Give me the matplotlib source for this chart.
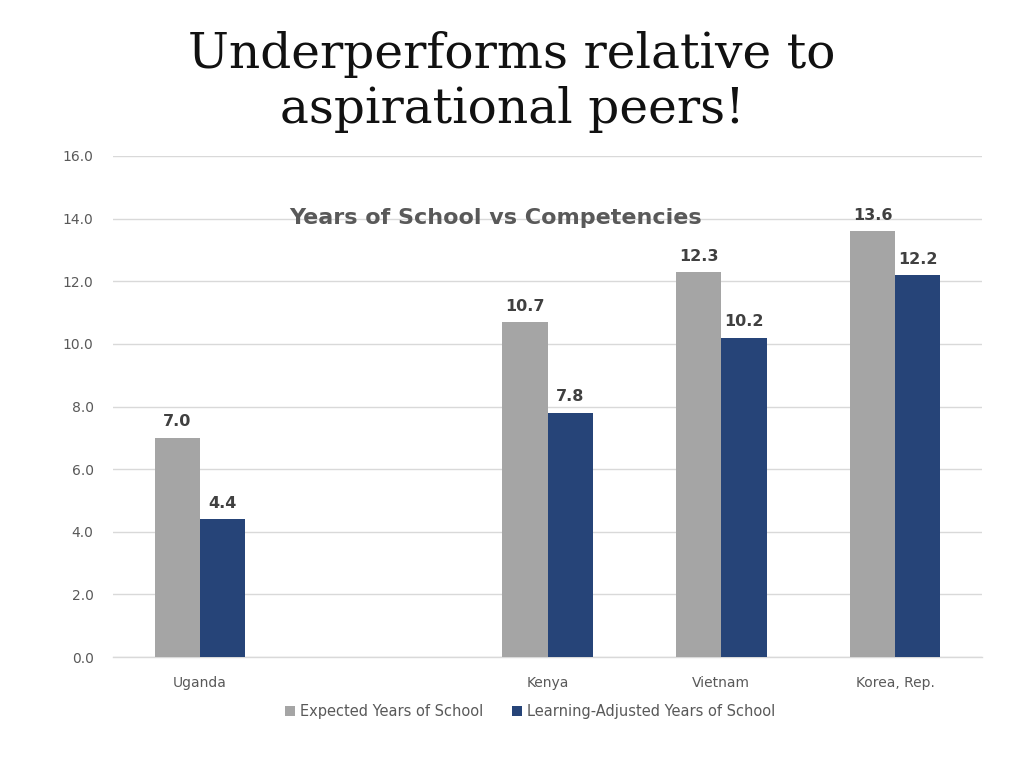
import matplotlib
matplotlib.use("Agg")
import matplotlib.pyplot as plt
import numpy as np

categories = ["Uganda", "", "Kenya", "Vietnam", "Korea, Rep."]
expected = [7.0, np.nan, 10.7, 12.3, 13.6]
learning_adj = [4.4, np.nan, 7.8, 10.2, 12.2]
series_names = ["Expected Years of School", "Learning-Adjusted Years of School"]
yticks = [0, 2, 4, 6, 8, 10, 12, 14, 16]

fig = plt.figure(figsize=(10.24, 7.68), dpi=100)
ax = fig.add_axes([0.1104, 0.1445, 0.8486, 0.6524])

x = np.arange(len(categories))
w = 0.26
c1, c2 = "#A5A5A5", "#264478"
b1 = ax.bar(x - w / 2, expected, w, color=c1, label=series_names[0], zorder=3)
b2 = ax.bar(x + w / 2, learning_adj, w, color=c2, label=series_names[1], zorder=3)

for bars, vals in ((b1, expected), (b2, learning_adj)):
    for rect, v in zip(bars, vals):
        if np.isnan(v):
            continue
        ax.annotate(f"{v:.1f}", (rect.get_x() + rect.get_width() / 2, v),
                    xytext=(0, 6), textcoords="offset points", ha="center", va="bottom",
                    fontsize=11.5, fontweight="bold", color="#404040", family="DejaVu Sans")

ax.set_xlim(-0.5, len(categories) - 0.5)
ax.set_ylim(0, 16)
ax.set_yticks(yticks)
ax.set_yticklabels([f"{t:.1f}" for t in yticks], fontsize=10, color="#595959")
ax.set_xticks(x)
ax.set_xticklabels(categories, fontsize=10, color="#595959")
ax.tick_params(axis="both", length=0)
ax.tick_params(axis="x", pad=14)
ax.tick_params(axis="y", pad=14)
ax.grid(axis="y", color="#D9D9D9", linewidth=1, zorder=0)
ax.axhline(0, color="#D9D9D9", linewidth=1, zorder=2, clip_on=False)
for s in ax.spines.values():
    s.set_visible(False)

ax.text(0.44, 0.8756, "Years of School vs Competencies", transform=ax.transAxes,
        ha="center", va="center", fontsize=16, fontweight="bold", color="#595959")

fig.text(0.5, 0.893, "Underperforms relative to\naspirational peers!", ha="center", va="center",
         fontsize=35, family="DejaVu Serif", color="#111111", linespacing=1.2)

ax.legend(loc="upper center", bbox_to_anchor=(0.48, -0.068), ncol=2, frameon=False,
          fontsize=10.5, handlelength=0.7, handleheight=0.7, handletextpad=0.3,
          columnspacing=2.0, labelcolor="#595959")

fig.savefig("out.png", dpi=100)
